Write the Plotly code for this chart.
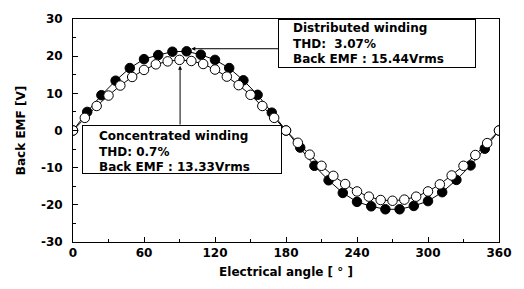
import plotly.graph_objects as go

# ---- data ----
angle_conc = [0, 10, 20, 30, 40, 50, 60, 70, 80, 90, 100, 110, 120, 130, 140, 150, 160, 170, 180,
              190, 200, 210, 220, 230, 240, 250, 260, 270, 280, 290, 300, 310, 320, 330, 340, 350, 360]
emf_conc = [0, 3.4, 6.6, 9.4, 12.1, 14.4, 16.3, 17.8, 18.6, 19.0, 18.7, 17.9, 16.4, 14.5, 12.2, 9.6, 6.6, 3.4, 0,
            -3.3, -6.5, -9.5, -12.2, -14.4, -16.4, -17.8, -18.7, -18.9, -18.6, -17.8, -16.4, -14.5, -12.1, -9.5, -6.6, -3.4, 0]

angle_dist = [0, 12, 24, 36, 48, 60, 72, 84, 96, 108, 120, 132, 144, 156, 168, 180,
              192, 204, 216, 228, 240, 252, 264, 276, 288, 300, 312, 324, 336, 348, 360]
emf_dist = [0, 5.0, 9.5, 13.4, 16.8, 19.2, 20.3, 21.2, 21.3, 20.4, 19.0, 16.8, 13.5, 9.6, 4.8, 0,
            -4.6, -9.5, -13.4, -16.8, -19.2, -20.4, -21.2, -21.2, -20.3, -19.0, -16.6, -13.3, -9.4, -4.9, 0]

x_tickvals = [0, 60, 120, 180, 240, 300, 360]
x_ticktext = ["0", "60", "120", "180", "240", "300", "360"]
y_tickvals = [-30, -20, -10, 0, 10, 20, 30]
y_ticktext = ["-30", "-20", "-10", "0", "10", "20", "30"]

dist_label = "Distributed winding<br>THD:  3.07%<br>Back EMF : 15.44Vrms"
conc_label = "Concentrated winding<br>THD: 0.7%<br>Back EMF : 13.33Vrms"

FONT = "DejaVu Sans"

fig = go.Figure()
fig.add_trace(go.Scatter(
    x=angle_dist, y=emf_dist, mode="lines+markers",
    line=dict(color="black", width=1),
    marker=dict(symbol="circle", size=9.5, color="black", line=dict(color="black", width=1)),
    showlegend=False))
fig.add_trace(go.Scatter(
    x=angle_conc, y=emf_conc, mode="lines+markers",
    line=dict(color="black", width=1),
    marker=dict(symbol="circle", size=9.5, color="white", line=dict(color="black", width=1)),
    showlegend=False))

# connector arrows
fig.add_annotation(x=100, y=22.0, ax=249, ay=22.0, xref="x", yref="y", axref="x", ayref="y",
                   text="", showarrow=True, arrowhead=2, arrowsize=0.8, arrowwidth=1, arrowcolor="black",
                   standoff=0)
fig.add_annotation(x=90.5, y=17.4, ax=90.5, ay=1.2, xref="x", yref="y", axref="x", ayref="y",
                   text="", showarrow=True, arrowhead=2, arrowsize=0.8, arrowwidth=1, arrowcolor="black",
                   standoff=0)

# boxes
fig.add_annotation(x=257.3, y=23.4, xref="x", yref="y", text=" ", showarrow=False,
                   width=196, height=47, borderpad=0, bordercolor="black", borderwidth=1,
                   bgcolor="white", xanchor="center", yanchor="middle")
fig.add_annotation(x=92.3, y=-5.2, xref="x", yref="y", text=" ", showarrow=False,
                   width=198, height=47, borderpad=0, bordercolor="black", borderwidth=1,
                   bgcolor="white", xanchor="center", yanchor="middle")

# box texts
fig.add_annotation(x=184.5, y=30.0, xref="x", yref="y", text=dist_label, showarrow=False,
                   align="left", xanchor="left", yanchor="top",
                   font=dict(family=FONT, size=12, color="black", weight="bold"))
fig.add_annotation(x=20.1, y=1.0, xref="x", yref="y", text=conc_label, showarrow=False,
                   align="left", xanchor="left", yanchor="top",
                   font=dict(family=FONT, size=12, color="black", weight="bold"))

axis_font = dict(family=FONT, size=12, color="black", weight="bold")
fig.update_xaxes(range=[0, 360], tickvals=x_tickvals, ticktext=x_ticktext,
                 showgrid=False, zeroline=False, showline=True, linecolor="black", linewidth=1,
                 mirror=True, ticks="inside", ticklen=5, tickcolor="black",
                 minor=dict(dtick=30, tick0=0, ticks="inside", ticklen=3, tickcolor="black"),
                 tickfont=axis_font,
                 title=dict(text="Electrical angle [ ° ]", font=axis_font, standoff=8))
fig.update_yaxes(range=[-30, 30], tickvals=y_tickvals, ticktext=y_ticktext,
                 showgrid=False, zeroline=False, showline=True, linecolor="black", linewidth=1,
                 mirror=True, ticks="inside", ticklen=5, tickcolor="black",
                 minor=dict(dtick=5, tick0=0, ticks="inside", ticklen=3, tickcolor="black"),
                 tickfont=axis_font, ticklabelstandoff=7,
                 title=dict(text="Back EMF [V]", font=axis_font, standoff=12))

fig.update_layout(width=524, height=289, autosize=False,
                  margin=dict(l=73, r=21, t=15, b=45),
                  plot_bgcolor="white", paper_bgcolor="white")

fig.write_html("out.html", config={"displayModeBar": False},
               post_script="document.body.style.margin='0';document.body.style.overflow='hidden';")
